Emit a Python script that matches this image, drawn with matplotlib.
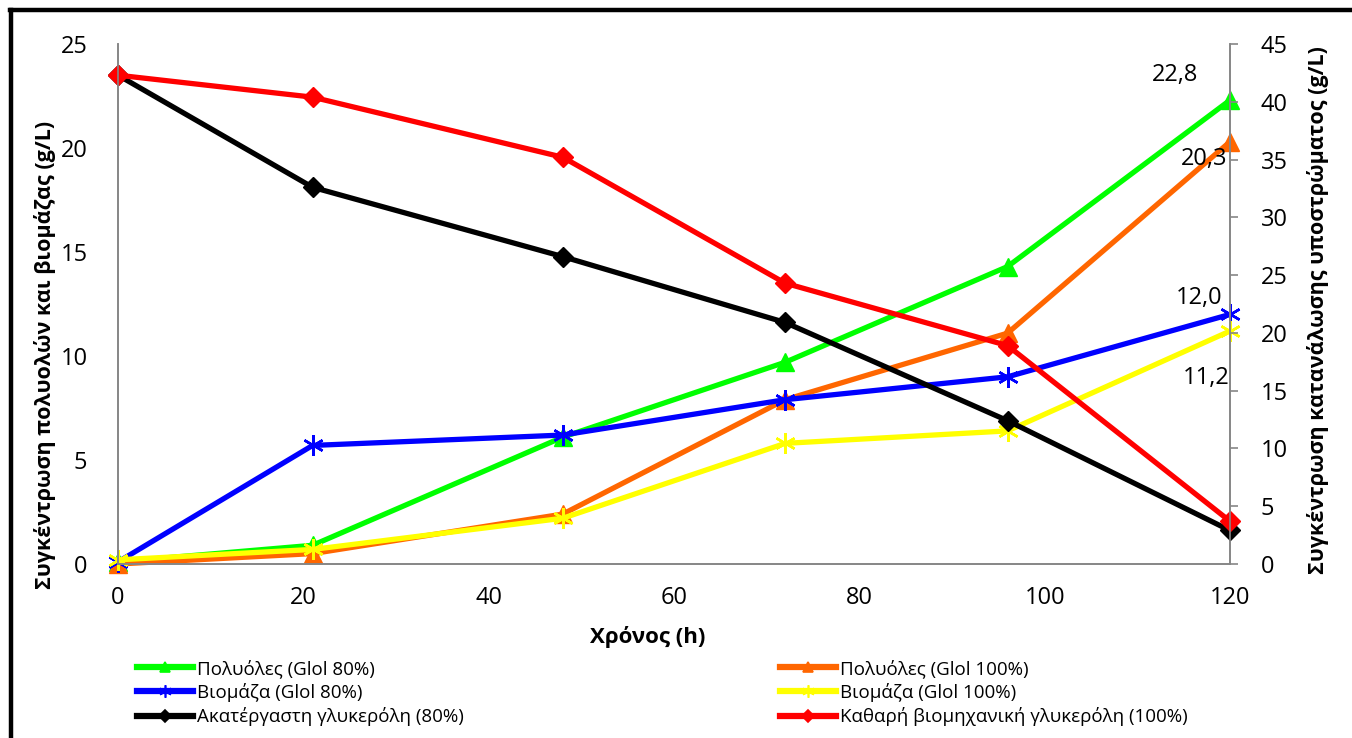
import numpy as np
import matplotlib.pyplot as plt
from matplotlib.lines import Line2D

plt.rcParams['font.family'] = ['Open Sans', 'DejaVu Sans']

# time points (h)
hours = [0, 21, 48, 72, 96, 120]

# left axis: polyols and biomass (g/L)
polyols_80 = [0.1, 0.9, 6.1, 9.7, 14.3, 22.3]
polyols_100 = [0.0, 0.5, 2.4, 7.9, 11.1, 20.3]
biomass_80 = [0.1, 5.7, 6.2, 7.9, 9.0, 12.0]
biomass_100 = [0.2, 0.7, 2.2, 5.8, 6.4, 11.2]

# right axis: substrate (g/L)
glycerol_crude_80 = [42.3, 32.6, 26.6, 20.9, 12.4, 2.9]
glycerol_pure_100 = [42.3, 40.4, 35.2, 24.3, 18.9, 3.7]

end_labels = ['22,8', '20,3', '12,0', '11,2']

names = ['Πολυόλες (Glol 80%)', 'Πολυόλες (Glol 100%)',
         'Βιομάζα (Glol 80%)', 'Βιομάζα (Glol 100%)',
         'Ακατέργαστη γλυκερόλη (80%)', 'Καθαρή βιομηχανική γλυκερόλη (100%)']

green = '#00ff00'
orange = '#ff6600'
blue = '#0000ff'
yellow = '#ffff00'
black = '#000000'
red = '#ff0000'
gray = '#868686'

star = (6, 2, 0)
styles = [(green, '^', 13), (orange, '^', 13), (blue, star, 15),
          (yellow, star, 15), (black, 'D', 10), (red, 'D', 10)]

fig = plt.figure(figsize=(13.52, 7.38), dpi=100)
ax = fig.add_axes([118/1352, 1 - 564/738, (1230-118)/1352, (564-44)/738])
ax2 = ax.twinx()

lw = 3.8
series = [polyols_80, polyols_100, biomass_80, biomass_100,
          glycerol_crude_80, glycerol_pure_100]
for i, (vals, (c, m, ms)) in enumerate(zip(series, styles)):
    target = ax if i < 4 else ax2
    target.plot(hours, vals, color=c, marker=m, markersize=ms, linewidth=lw,
                markeredgewidth=1.8 if m == star else 1.0, clip_on=False)

ax.set_xlim(0, 120)
ax.set_ylim(0, 25)
ax2.set_ylim(0, 45)
ax.set_xticks(np.arange(0, 121, 20))
ax.set_yticks(np.arange(0, 26, 5))
ax2.set_yticks(np.arange(0, 46, 5))

for a in (ax, ax2):
    a.spines['top'].set_visible(False)
    for s in ('left', 'right', 'bottom'):
        a.spines[s].set_color(gray)
        a.spines[s].set_linewidth(1.2)
ax.tick_params(axis='both', length=0, labelsize=17, pad=22, colors='black')
ax.tick_params(axis='x', pad=16)
ax2.tick_params(axis='y', length=6, width=1.2, color=gray, labelsize=17,
                pad=16, labelcolor='black', direction='out')

ax.set_xlabel('Χρόνος (h)', fontsize=16, fontweight='bold')
ax.xaxis.set_label_coords((648 - 118) / 1112, -(626 - 564) / 520)
ax.set_ylabel('Συγκέντρωση πολυολών και βιομάζας (g/L)', fontsize=15.5,
              fontweight='bold')
ax.yaxis.set_label_coords(-(118 - 56) / 1112, (564 - 355) / 520)
ax2.set_ylabel('Συγκέντρωση κατανάλωσης υποστρώματος (g/L)', fontsize=15.5,
               fontweight='bold')
ax2.yaxis.set_label_coords(1 + (1307 - 1230) / 1112, (564 - 310) / 520)

# end value labels
offsets = [(-32, 25), (-3, -17), (-8, 16), (0, -47)]
for vals, lab, off in zip(series[:4], end_labels, offsets):
    ax.annotate(lab, (hours[-1], vals[-1]), xytext=off, textcoords='offset pixels',
                ha='right', va='center', fontsize=17)

# legend entries with small markers, as in the original
handles = [Line2D([], [], color=c, marker=m, markersize=ms * 0.6, linewidth=4.5,
                  markeredgewidth=1.2)
           for c, m, ms in styles]
leg_kw = dict(loc='upper left', frameon=False, fontsize=13.5, handlelength=3.0,
              handletextpad=0.2, labelspacing=0.28, borderaxespad=0, borderpad=0)
fig.legend([handles[0], handles[2], handles[4]], [names[0], names[2], names[4]],
           bbox_to_anchor=(137/1352, 1 - 659/738), **leg_kw)
fig.legend([handles[1], handles[3], handles[5]], [names[1], names[3], names[5]],
           bbox_to_anchor=(780/1352, 1 - 659/738), **leg_kw)

# outer frame (top and left edges visible)
fig.add_artist(Line2D([11/1352, 11/1352], [0, 1 - 9.5/738], color='black',
                      linewidth=3.2, transform=fig.transFigure))
fig.add_artist(Line2D([9.5/1352, 1], [1 - 9.5/738, 1 - 9.5/738], color='black',
                      linewidth=3.2, transform=fig.transFigure))

fig.savefig('out.png', dpi=100)
